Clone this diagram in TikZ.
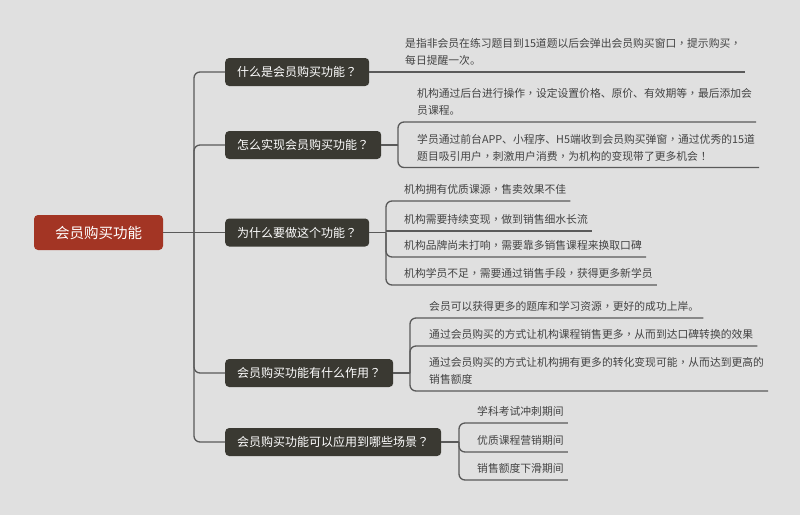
\documentclass[tikz,border=0pt]{standalone}
\usepackage{fontspec}
\setmainfont{Noto Sans CJK SC}
\newfontfamily\punctfont{Noto Sans CJK TC}
\newcommand{\cma}{{\punctfont ，}}
\newcommand{\qmk}{{\punctfont ？}}
\newcommand{\exm}{{\punctfont ！}}
\definecolor{bg}{HTML}{E0E0E0}
\definecolor{rootc}{HTML}{A33524}
\definecolor{branchc}{HTML}{3A3932}
\definecolor{linec}{HTML}{5A5A5A}
\definecolor{leaftext}{HTML}{434343}
\tikzset{
  conn/.style={draw=linec, line width=1.3pt, rounded corners=6pt},
  rootbox/.style={fill=rootc, rounded corners=4pt, text=white,
    font=\fontsize{14.5pt}{17pt}\selectfont, minimum width=129pt,
    minimum height=35pt, inner sep=0pt},
  branchbox/.style={fill=branchc, rounded corners=4pt, text=white,
    font=\fontsize{12pt}{14pt}\selectfont, minimum height=28pt,
    inner xsep=12pt, inner ysep=0pt, anchor=west},
  leaf/.style={anchor=south west, inner xsep=0pt, inner ysep=2pt, align=left,
    text=leaftext, font=\fontsize{10.8pt}{17pt}\selectfont},
}
\begin{document}
\begin{tikzpicture}[x=1pt,y=-1pt]
\fill[bg] (0,0) rectangle (800,515);
\useasboundingbox (0,0) rectangle (800,515);

% root and branches
\node[rootbox] (root) at (98.5,232.5) {会员购买功能};
\node[branchbox] (b1) at (225,72) {什么是会员购买功能\qmk};
\node[branchbox] (b2) at (225,145) {怎么实现会员购买功能\qmk};
\node[branchbox] (b3) at (225,232.5) {为什么要做这个功能\qmk};
\node[branchbox] (b4) at (225,373) {会员购买功能有什么作用\qmk};
\node[branchbox] (b5) at (225,442) {会员购买功能可以应用到哪些场景\qmk};

\coordinate (t) at (194,232.5);
\draw[conn] (root.east) -- (b3.west);
\draw[conn] (t) |- (b1.west);
\draw[conn] (t) |- (b2.west);
\draw[conn] (t) |- (b4.west);
\draw[conn] (t) |- (b5.west);

% branch 1
\node[leaf] (l11) at (405,72) {是指非会员在练习题目到15道题以后会弹出会员购买窗口\cma 提示购买\cma\\每日提醒一次。\strut};
\draw[conn] (b1.east) -- ([xshift=4pt]l11.south east);

% branch 2
\coordinate (c2) at (398,145);
\node[leaf] (l21) at (417,122) {机构通过后台进行操作\cma 设定设置价格、原价、有效期等\cma 最后添加会\\员课程。\strut};
\node[leaf] (l22) at (417,167.5) {学员通过前台APP、小程序、H5端收到会员购买弹窗\cma 通过优秀的15道\\题目吸引用户\cma 刺激用户消费\cma 为机构的变现带了更多机会\exm\strut};
\draw[conn] (b2.east) -- (c2);
\draw[conn] (c2) |- ([xshift=4pt]l21.south east);
\draw[conn] (c2) |- ([xshift=4pt]l22.south east);

% branch 3
\coordinate (c3) at (386,232.5);
\node[leaf] (l31) at (404,201) {机构拥有优质课源\cma 售卖效果不佳\strut};
\node[leaf] (l32) at (404,231) {机构需要持续变现\cma 做到销售细水长流\strut};
\node[leaf] (l33) at (404,257) {机构品牌尚未打响\cma 需要靠多销售课程来换取口碑\strut};
\node[leaf] (l34) at (404,285) {机构学员不足\cma 需要通过销售手段\cma 获得更多新学员\strut};
\draw[conn] (b3.east) -- (c3);
\draw[conn] (c3) |- ([xshift=4pt]l31.south east);
\draw[conn] (c3 |- l32.south) -- ([xshift=4pt]l32.south east);
\draw[conn] (c3) |- ([xshift=4pt]l33.south east);
\draw[conn] (c3) |- ([xshift=4pt]l34.south east);

% branch 4
\coordinate (c4) at (410,373);
\node[leaf] (l41) at (429,318) {会员可以获得更多的题库和学习资源\cma 更好的成功上岸。\strut};
\node[leaf] (l42) at (429,346) {通过会员购买的方式让机构课程销售更多\cma 从而到达口碑转换的效果\strut};
\node[leaf] (l43) at (429,391) {通过会员购买的方式让机构拥有更多的转化变现可能\cma 从而达到更高的\\销售额度\strut};
\draw[conn] (b4.east) -- (c4);
\draw[conn] (c4) |- ([xshift=4pt]l41.south east);
\draw[conn] (c4) |- ([xshift=4pt]l42.south east);
\draw[conn] (c4) |- ([xshift=4pt]l43.south east);

% branch 5
\coordinate (c5) at (459,442);
\node[leaf] (l51) at (477,423) {学科考试冲刺期间\strut};
\node[leaf] (l52) at (477,452) {优质课程营销期间\strut};
\node[leaf] (l53) at (477,480) {销售额度下滑期间\strut};
\draw[conn] (b5.east) -- (c5);
\draw[conn] (c5) |- ([xshift=4pt]l51.south east);
\draw[conn] (c5) |- ([xshift=4pt]l52.south east);
\draw[conn] (c5) |- ([xshift=4pt]l53.south east);
\end{tikzpicture}
\end{document}
